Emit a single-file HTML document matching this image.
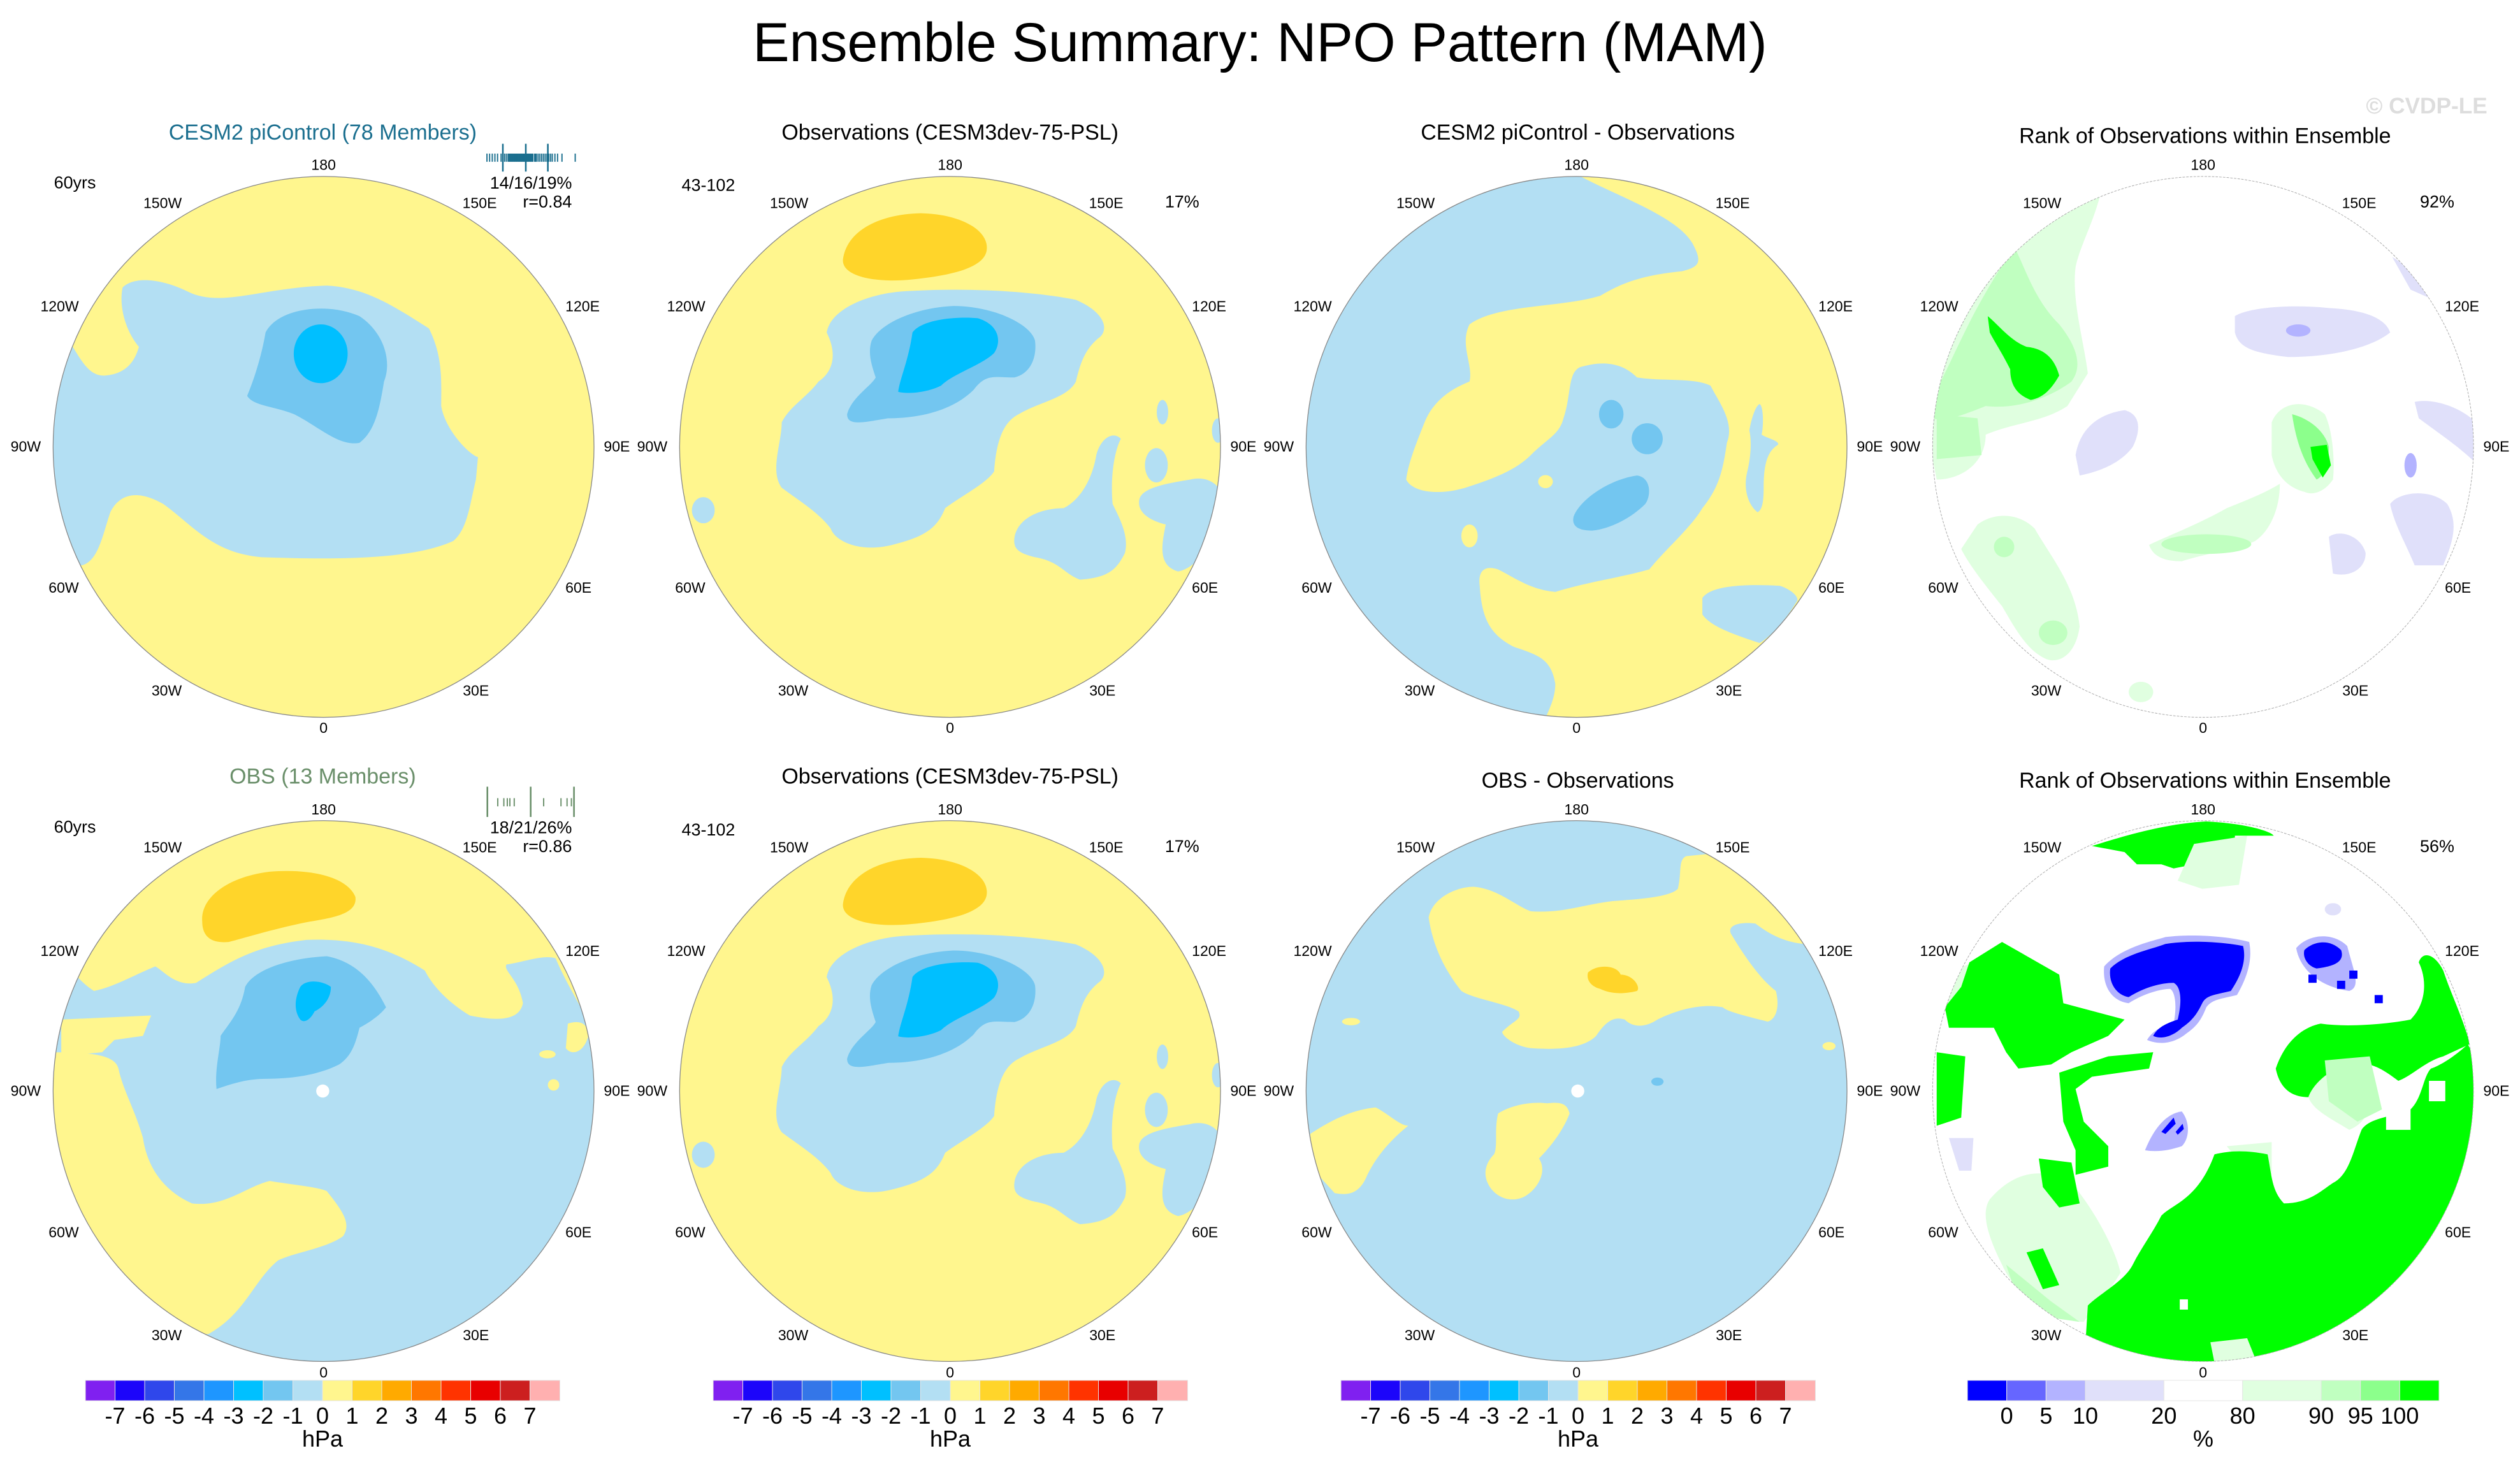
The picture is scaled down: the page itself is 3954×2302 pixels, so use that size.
<!DOCTYPE html>
<html>
<head>
<meta charset="utf-8">
<style>
html,body{margin:0;padding:0;background:#fff;}
svg{display:block;}
text{font-family:"Liberation Sans",Arial,sans-serif;}
</style>
</head>
<body>
<svg id="fig" xmlns="http://www.w3.org/2000/svg" width="3954" height="2302" viewBox="0 0 3954 2302">
<defs>
  <clipPath id="clipTop"><circle cx="792" cy="860" r="662"/></clipPath>
  <clipPath id="clipBot"><circle cx="792" cy="855" r="662"/></clipPath>
  <g id="obsPattern">
    <rect x="100" y="150" width="1400" height="1400" fill="#fff68e"/>
    <path fill="#ffd52a" d="M530,400 C540,330 620,290 720,288 C820,290 885,330 882,375 C880,420 800,440 700,450 C600,460 525,440 530,400 Z"/>
    <path fill="#b3dff3" d="M490,580 C500,520 600,480 700,478 C850,470 1000,480 1100,500 C1170,530 1180,570 1160,590 C1120,620 1110,660 1100,700 C1080,740 1010,750 960,780 C920,800 905,850 900,920 C880,950 820,980 780,1010 C760,1060 730,1080 650,1100 C570,1120 510,1090 500,1060 C470,1020 420,990 380,960 C350,920 380,850 380,800 C400,760 440,740 470,700 C500,680 520,640 490,580 Z"/>
    <path fill="#73c6f0" d="M600,600 C620,560 700,520 800,515 C900,515 990,560 1000,600 C1005,640 990,680 950,690 C900,690 880,680 850,720 C800,770 720,790 640,790 C580,800 540,810 540,780 C550,740 600,710 610,690 C600,660 590,630 600,600 Z"/>
    <path fill="#00bfff" d="M700,580 C720,550 800,540 860,545 C910,560 920,600 900,630 C870,660 800,680 770,710 C730,730 680,730 665,725 C670,690 690,650 700,580 Z"/>
    <path fill="#b3dff3" d="M950,1080 C960,1030 1020,1010 1070,1010 C1110,990 1140,940 1150,880 C1160,840 1190,820 1210,840 C1190,880 1185,950 1190,1000 C1210,1040 1230,1080 1220,1120 C1200,1160 1180,1180 1110,1185 C1070,1170 1060,1140 1000,1130 C960,1120 945,1110 950,1080 Z"/>
    <path fill="#b3dff3" d="M1255,990 C1260,960 1320,950 1380,940 C1420,930 1450,950 1460,980 L1450,1080 C1410,1130 1380,1160 1350,1165 C1300,1150 1310,1100 1320,1050 C1280,1040 1250,1020 1255,990 Z"/>
    <ellipse fill="#b3dff3" cx="1312" cy="775" rx="14" ry="30"/>
    <ellipse fill="#b3dff3" cx="1297" cy="905" rx="28" ry="42"/>
    <ellipse fill="#b3dff3" cx="1448" cy="820" rx="15" ry="30"/>
    <ellipse fill="#b3dff3" cx="188" cy="1015" rx="28" ry="32"/>
  </g>
</defs>

<text x="1977" y="96" font-size="86" text-anchor="middle" fill="#000">Ensemble Summary: NPO Pattern (MAM)</text>

<!-- Panel 1: CESM2 piControl -->
<g transform="translate(0,150) scale(0.641)">
  <g clip-path="url(#clipTop)">
    <rect x="100" y="150" width="1400" height="1400" fill="#fff68e"/>
    <path fill="#b3dff3" d="M300,470 C330,440 400,450 460,480 C540,520 640,470 800,465 C900,470 970,520 1050,570 C1085,640 1080,700 1080,760 C1090,820 1150,880 1170,885 L1165,940 C1150,1000 1145,1060 1110,1090 C1000,1140 800,1135 640,1130 C520,1120 470,1050 400,1000 C330,960 290,980 270,1020 C250,1080 240,1140 200,1150 L100,1150 L100,610 L175,610 C200,650 220,690 260,685 C310,680 330,650 340,615 C310,580 290,520 300,470 Z"/>
    <path fill="#73c6f0" d="M650,580 C680,520 800,505 880,540 C940,580 960,650 940,700 C930,760 920,820 880,850 C830,860 780,810 720,780 C670,760 620,760 605,735 C620,700 640,640 650,580 Z"/>
    <ellipse fill="#00bfff" cx="785" cy="632" rx="66" ry="72"/>
  </g>
  <circle cx="792" cy="860" r="662" fill="none" stroke="#888" stroke-width="2"/>
  <text x="790" y="108" font-size="53" text-anchor="middle" fill="#1b6f8f">CESM2 piControl (78 Members)</text>
  <g id="hist1"></g>
  <text x="132" y="227" font-size="42">60yrs</text>
  <text x="1400" y="228" font-size="42" text-anchor="end">14/16/19%</text>
  <text x="1400" y="274" font-size="42" text-anchor="end">r=0.84</text>
  <g class="lonlabels"></g>
</g>

<!-- Panel 2: Observations -->
<g transform="translate(983,150) scale(0.641)">
  <g clip-path="url(#clipTop)">
    <use href="#obsPattern"/>
  </g>
  <circle cx="792" cy="860" r="662" fill="none" stroke="#888" stroke-width="2"/>
  <text x="792" y="108" font-size="53" text-anchor="middle">Observations (CESM3dev-75-PSL)</text>
  <text x="135" y="233" font-size="42">43-102</text>
  <text x="1402" y="274" font-size="42" text-anchor="end">17%</text>
  <g class="lonlabels"></g>
</g>

<!-- Panel 3: difference -->
<g transform="translate(1966,150) scale(0.641)">
  <g clip-path="url(#clipTop)">
    <rect x="100" y="150" width="1400" height="1400" fill="#b3dff3"/>
    <path fill="#fff68e" d="M800,197 C900,250 1050,300 1080,370 C1100,410 1090,420 1050,430 C950,440 900,460 850,490 C750,520 600,510 530,560 C505,610 540,660 530,700 C480,720 440,750 420,800 C400,850 380,900 375,940 C390,970 450,980 520,960 C580,940 640,920 680,880 C720,840 750,830 760,790 C780,730 770,680 800,665 C850,650 900,650 940,690 C1000,700 1080,690 1120,710 C1140,750 1180,800 1160,850 C1150,920 1140,960 1100,1010 C1070,1060 1010,1110 970,1160 C900,1180 820,1190 740,1215 C680,1210 640,1180 600,1160 C570,1150 550,1160 555,1200 C560,1280 580,1320 640,1350 C700,1370 730,1380 740,1440 C740,1480 720,1510 710,1540 L1500,1540 L1500,150 L800,150 Z"/>
    <path fill="#b3dff3" d="M1100,1230 C1120,1200 1200,1195 1290,1200 C1320,1210 1340,1230 1330,1240 C1300,1290 1260,1330 1240,1340 C1180,1320 1120,1300 1100,1270 Z"/>
    <path fill="#b3dff3" d="M1240,755 C1250,760 1250,810 1245,830 C1260,840 1290,845 1285,855 C1260,870 1250,900 1250,960 C1250,1000 1245,1015 1235,1020 C1210,1000 1200,960 1210,920 C1220,880 1220,840 1215,820 C1220,790 1230,760 1240,755 Z"/>
    <ellipse fill="#fff68e" cx="716" cy="945" rx="18" ry="16"/>
    <ellipse fill="#fff68e" cx="530" cy="1078" rx="20" ry="28"/>
    <ellipse fill="#73c6f0" cx="877" cy="780" rx="30" ry="35"/>
    <ellipse fill="#73c6f0" cx="965" cy="840" rx="38" ry="38"/>
    <path fill="#73c6f0" d="M785,1030 C800,990 870,940 940,930 C975,935 975,980 960,1000 C930,1030 880,1060 830,1065 C790,1065 780,1050 785,1030 Z"/>
  </g>
  <circle cx="792" cy="860" r="662" fill="none" stroke="#888" stroke-width="2"/>
  <text x="795" y="108" font-size="53" text-anchor="middle">CESM2 piControl - Observations</text>
  <g class="lonlabels"></g>
</g>

<!-- Panel 4: rank (top) -->
<g transform="translate(2949,150) scale(0.641)">
  <g clip-path="url(#clipTop)">
    <rect x="100" y="150" width="1400" height="1400" fill="#fff"/>
    <path fill="#e0ffe0" d="M540,245 C520,320 490,370 480,420 C470,500 500,600 510,680 L460,760 C400,800 330,800 260,830 C260,900 200,940 140,940 L100,740 C150,600 200,470 290,360 C380,280 460,250 540,245 Z"/>
    <path fill="#c0ffc0" d="M330,370 C360,430 380,500 440,560 C480,610 500,660 470,700 C430,730 350,770 260,760 C210,780 160,800 130,790 L150,700 C200,600 230,520 330,370 Z"/>
    <path fill="#c0ffc0" d="M140,780 L240,790 L250,880 L140,890 Z"/>
    <path fill="#00ff00" d="M265,540 C290,560 320,600 360,615 C410,620 430,650 440,685 C420,720 400,740 370,745 C330,730 320,700 320,670 C300,630 280,600 270,580 Z"/>
    <path fill="#e0ffe0" d="M960,800 C980,750 1040,740 1090,780 C1110,820 1115,900 1110,940 C1090,970 1060,980 1040,970 C1000,960 970,930 960,880 Z"/>
    <path fill="#8cff8c" d="M1010,780 C1050,790 1090,820 1100,860 C1100,900 1090,930 1070,940 C1040,900 1020,850 1010,780 Z"/>
    <path fill="#00ff00" d="M1055,860 L1095,855 L1105,905 L1085,935 L1060,890 Z"/>
    <path fill="#e0ffe0" d="M660,1100 C700,1080 780,1050 850,1010 C900,990 950,970 980,950 C980,1020 950,1070 920,1090 C880,1110 800,1120 740,1140 C700,1140 670,1130 660,1100 Z"/>
    <ellipse fill="#c0ffc0" cx="800" cy="1098" rx="110" ry="24"/>
    <path fill="#e0ffe0" d="M240,1050 C280,1020 340,1020 380,1060 C420,1130 480,1200 490,1300 C480,1370 440,1390 410,1380 C360,1360 330,1300 300,1250 C260,1200 220,1150 200,1110 Z"/>
    <ellipse fill="#c0ffc0" cx="425" cy="1315" rx="35" ry="30"/>
    <ellipse fill="#c0ffc0" cx="305" cy="1105" rx="25" ry="25"/>
    <ellipse fill="#e0ffe0" cx="640" cy="1460" rx="30" ry="25"/>
    <path fill="#e0e0fa" d="M870,540 C900,520 1000,510 1100,520 C1200,525 1240,550 1250,580 C1200,620 1100,640 1000,640 C920,630 880,620 870,580 Z"/>
    <path fill="#e0e0fa" d="M480,880 C490,820 530,780 600,770 C640,780 640,820 620,860 C590,900 540,920 490,930 Z"/>
    <path fill="#e0e0fa" d="M1250,1000 C1270,970 1350,960 1390,1000 C1420,1050 1400,1100 1380,1150 L1310,1150 C1290,1100 1260,1050 1250,1000 Z"/>
    <path fill="#e0e0fa" d="M1310,750 C1350,740 1420,760 1460,800 L1460,900 C1420,860 1360,820 1320,790 Z"/>
    <path fill="#e0e0fa" d="M1100,1080 C1130,1060 1180,1080 1190,1120 C1190,1160 1150,1180 1110,1170 Z"/>
    <path fill="#e0e0fa" d="M1255,395 C1300,420 1330,460 1345,495 L1300,475 Z"/>
    <ellipse fill="#b3b3ff" cx="1300" cy="905" rx="15" ry="30"/>
    <ellipse fill="#b3b3ff" cx="1025" cy="575" rx="30" ry="15"/>
  </g>
  <circle cx="792" cy="860" r="662" fill="none" stroke="#aaa" stroke-width="1.5" stroke-dasharray="6 3"/>
  <text x="1488" y="44" font-size="55" font-weight="bold" text-anchor="end" fill="#dddddd">© CVDP-LE</text>
  <text x="797" y="116" font-size="53" text-anchor="middle">Rank of Observations within Ensemble</text>
  <text x="1407" y="274" font-size="42" text-anchor="end">92%</text>
  <g class="lonlabels"></g>
</g>

<!-- Panel 5: OBS 13 members -->
<g transform="translate(0,1164) scale(0.641)">
  <g clip-path="url(#clipBot)">
    <rect x="100" y="150" width="1400" height="1400" fill="#b3dff3"/>
    <path fill="#fff68e" d="M100,580 L100,150 L1500,150 L1500,700 L1440,690 C1420,640 1390,600 1360,530 C1330,520 1280,540 1240,545 C1230,560 1270,580 1280,640 C1270,690 1200,680 1150,670 C1100,640 1060,600 1040,560 C960,510 880,480 750,485 C620,500 560,540 480,590 C430,600 400,560 380,550 C330,570 280,600 230,610 C200,590 190,575 180,565 Z"/>
    <path fill="#ffd52a" d="M495,440 C490,380 560,330 660,318 C760,310 850,330 870,380 C875,420 820,430 760,440 C680,455 600,480 560,490 C510,495 495,470 495,440 Z"/>
    <path fill="#fff68e" d="M150,680 L370,670 L350,720 L280,730 L250,760 L150,770 Z"/>
    <path fill="#fff68e" d="M100,760 C200,760 280,760 290,800 C300,850 330,900 350,970 C360,1040 400,1100 470,1130 C550,1140 600,1090 660,1075 C720,1085 780,1090 800,1100 C840,1150 860,1180 840,1210 C800,1240 720,1250 680,1270 C620,1320 600,1400 510,1450 L100,1450 Z"/>
    <path fill="#fff68e" d="M1390,690 C1420,680 1440,690 1440,720 C1430,760 1400,770 1385,750 Z"/>
    <ellipse fill="#fff68e" cx="1355" cy="840" rx="14" ry="14"/>
    <ellipse fill="#fff68e" cx="1340" cy="765" rx="20" ry="10"/>
    <path fill="#73c6f0" d="M600,600 C620,560 700,530 800,525 C880,540 920,600 945,650 C930,670 900,690 880,700 C870,740 860,770 830,790 C780,815 720,825 650,825 C600,825 560,840 530,850 C525,800 540,750 540,720 C560,690 590,660 600,600 Z"/>
    <path fill="#00bfff" d="M735,600 C750,580 790,585 810,600 C810,630 790,650 770,660 C760,680 745,690 735,680 C720,660 720,630 735,600 Z"/>
    <circle fill="#fff" cx="790" cy="855" r="16"/>
  </g>
  <circle cx="792" cy="855" r="662" fill="none" stroke="#888" stroke-width="2"/>
  <text x="790" y="102" font-size="53" text-anchor="middle" fill="#6a8f6a">OBS (13 Members)</text>
  <g id="hist2"></g>
  <text x="132" y="222" font-size="42">60yrs</text>
  <text x="1400" y="224" font-size="42" text-anchor="end">18/21/26%</text>
  <text x="1400" y="270" font-size="42" text-anchor="end">r=0.86</text>
  <g class="lonlabels bot"></g>
</g>

<!-- Panel 6: Observations (bottom) -->
<g transform="translate(983,1164) scale(0.641)">
  <g clip-path="url(#clipBot)">
    <use href="#obsPattern" transform="translate(0,-4)"/>
  </g>
  <circle cx="792" cy="855" r="662" fill="none" stroke="#888" stroke-width="2"/>
  <text x="792" y="102" font-size="53" text-anchor="middle">Observations (CESM3dev-75-PSL)</text>
  <text x="135" y="229" font-size="42">43-102</text>
  <text x="1402" y="270" font-size="42" text-anchor="end">17%</text>
  <g class="lonlabels bot"></g>
</g>

<!-- Panel 7: OBS - Observations -->
<g transform="translate(1966,1164) scale(0.641)">
  <g clip-path="url(#clipBot)">
    <rect x="100" y="150" width="1400" height="1400" fill="#b3dff3"/>
    <path fill="#fff68e" d="M430,430 C440,380 500,355 540,355 C600,360 640,400 680,415 C760,420 800,400 880,390 C950,385 1020,380 1040,360 C1050,320 1040,290 1060,280 L1110,275 C1200,320 1300,420 1350,495 C1290,490 1250,460 1230,445 C1190,440 1160,450 1170,470 C1200,520 1240,580 1280,610 C1290,650 1280,680 1260,685 C1200,670 1160,660 1150,650 C1100,640 1040,655 990,680 C960,700 930,700 910,680 C880,670 860,690 840,720 C810,750 750,755 680,750 C640,745 610,720 610,710 C640,680 660,680 650,660 C620,640 540,630 510,610 C470,560 440,500 430,430 Z"/>
    <path fill="#ffd52a" d="M820,565 C840,545 890,545 900,570 C930,570 950,600 940,610 C900,620 870,615 850,605 C830,600 815,585 820,565 Z"/>
    <path fill="#fff68e" d="M140,960 C200,920 250,900 300,895 C330,910 360,940 380,940 C330,980 300,1020 280,1060 C260,1110 230,1110 200,1105 L150,1050 Z"/>
    <path fill="#fff68e" d="M600,910 C630,890 680,880 720,885 C760,880 770,890 775,910 C760,950 730,990 700,1020 C720,1050 700,1090 670,1110 C640,1130 600,1120 580,1090 C560,1060 570,1030 590,1010 C600,990 590,950 600,910 Z"/>
    <ellipse fill="#fff68e" cx="240" cy="685" rx="22" ry="9"/>
    <ellipse fill="#fff68e" cx="1410" cy="745" rx="16" ry="10"/>
    <ellipse fill="#73c6f0" cx="990" cy="832" rx="15" ry="10"/>
    <circle fill="#fff" cx="795" cy="855" r="16"/>
  </g>
  <circle cx="792" cy="855" r="662" fill="none" stroke="#888" stroke-width="2"/>
  <text x="795" y="112" font-size="53" text-anchor="middle">OBS - Observations</text>
  <g class="lonlabels bot"></g>
</g>

<!-- Panel 8: rank (bottom) -->
<g transform="translate(2949,1164) scale(0.641)">
  <g clip-path="url(#clipBot)">
    <rect x="100" y="150" width="1400" height="1400" fill="#fff"/>
    <path fill="#e0ffe0" d="M270,1120 C330,1050 400,1040 470,1080 C530,1150 580,1250 590,1300 C560,1350 520,1390 500,1420 C420,1420 330,1350 300,1280 C260,1200 250,1150 270,1120 Z"/>
    <path fill="#c0ffc0" d="M310,1280 L420,1370 L490,1420 L420,1410 L330,1340 Z"/>
    <path fill="#e0ffe0" d="M1020,770 C1080,760 1150,770 1200,820 C1210,880 1200,930 1150,950 C1100,920 1060,900 1050,870 Z"/>
    <path fill="#e0ffe0" d="M180,560 L230,540 L240,640 L160,660 Z"/>
    <path fill="#e0ffe0" d="M850,990 L960,980 L960,1060 L900,1050 Z"/>
    <path fill="#00ff00" d="M510,1380 C540,1350 600,1320 620,1280 C640,1240 670,1200 690,1160 C720,1130 780,1120 820,1010 C860,1000 900,1000 950,1010 C960,1060 960,1100 990,1130 C1050,1130 1080,1100 1110,1080 C1150,1060 1160,1000 1180,950 C1200,920 1250,920 1300,900 C1330,870 1330,820 1350,800 C1380,790 1420,760 1440,740 L1470,800 L1470,1540 L500,1540 Z"/>
    <path fill="#00ff00" d="M970,800 C990,740 1030,700 1080,690 C1150,700 1250,690 1300,680 C1340,640 1340,580 1320,540 C1330,510 1360,520 1380,560 C1400,620 1430,680 1445,740 L1380,770 C1340,780 1300,820 1270,830 C1230,800 1200,780 1150,790 C1100,800 1060,840 1050,870 C1010,870 980,850 970,800 Z"/>
    <path fill="#c0ffc0" d="M1090,780 L1200,770 L1230,900 L1170,930 L1100,880 Z"/>
    <rect fill="#fff" x="1345" y="830" width="40" height="50"/>
    <rect fill="#fff" x="1240" y="880" width="60" height="70"/>
    <rect fill="#fff" x="735" y="1365" width="20" height="25"/>
    <path fill="#e0ffe0" d="M810,1470 L900,1460 L920,1510 L820,1520 Z"/>
    <path fill="#00ff00" d="M220,540 L300,490 L440,570 L450,640 L600,680 L560,720 L470,760 L420,790 L340,800 L310,760 L280,700 L220,700 L170,700 L160,650 L200,600 Z"/>
    <path fill="#00ff00" d="M140,760 L210,770 L200,920 L140,940 Z"/>
    <path fill="#00ff00" d="M440,810 L560,770 L670,760 L660,800 L520,820 L480,850 L500,930 L560,990 L560,1040 L480,1060 L480,1000 L450,930 Z"/>
    <path fill="#00ff00" d="M390,1020 L470,1030 L490,1130 L440,1140 L400,1090 Z"/>
    <path fill="#00ff00" d="M360,1250 L400,1240 L440,1330 L400,1340 Z"/>
    <path fill="#00ff00" d="M520,255 C600,230 700,200 800,195 C900,200 960,220 965,230 L870,230 L870,250 L770,260 L770,300 L720,310 L690,300 L630,300 L600,270 Z"/>
    <path fill="#e0ffe0" d="M770,250 L900,230 L880,350 L790,360 L730,340 Z"/>
    <path fill="#b3b3ff" d="M550,550 C590,505 660,490 700,478 C760,470 850,475 905,490 C915,540 895,585 875,620 C835,630 815,630 800,650 C790,675 780,695 750,715 C725,735 690,745 655,730 C670,705 695,695 720,690 C728,650 725,615 712,605 C690,605 650,615 610,640 C570,635 545,600 550,550 Z"/>
    <path fill="#0000ff" d="M565,555 C600,520 660,510 700,495 C760,485 840,490 890,500 C900,540 880,580 860,610 C820,620 800,620 790,640 C780,660 770,680 740,700 C720,720 690,730 670,720 C680,700 700,690 730,680 C740,640 740,600 720,590 C690,590 650,600 610,625 C580,620 560,590 565,555 Z"/>
    <path fill="#b3b3ff" d="M1020,505 C1050,470 1110,465 1145,500 C1160,560 1180,600 1150,610 C1080,600 1030,560 1020,505 Z"/>
    <path fill="#0000ff" d="M1040,510 C1060,490 1100,480 1130,510 C1140,540 1110,550 1070,555 C1050,550 1035,530 1040,510 Z"/>
    <rect fill="#0000ff" x="1050" y="570" width="20" height="20"/>
    <rect fill="#0000ff" x="1120" y="585" width="20" height="20"/>
    <rect fill="#0000ff" x="1150" y="560" width="20" height="20"/>
    <rect fill="#0000ff" x="1212" y="620" width="20" height="20"/>
    <ellipse fill="#e0e0fa" cx="1110" cy="410" rx="20" ry="15"/>
    <path fill="#b3b3ff" d="M650,1000 C670,950 700,910 740,905 C760,930 760,970 740,990 C710,1000 680,1005 650,1000 Z"/>
    <path fill="#0000ff" d="M690,955 L720,920 L725,935 L700,960 Z M725,955 L742,935 L745,948 L730,962 Z"/>
    <path fill="#e0e0fa" d="M170,970 L230,970 L225,1050 L195,1050 Z"/>
  </g>
  <circle cx="792" cy="855" r="662" fill="none" stroke="#aaa" stroke-width="1.5" stroke-dasharray="6 3"/>
  <text x="797" y="112" font-size="53" text-anchor="middle">Rank of Observations within Ensemble</text>
  <text x="1407" y="270" font-size="42" text-anchor="end">56%</text>
  <g class="lonlabels bot"></g>
</g>

<g id="colorbars"></g>
</svg>

<script>
// Colorbar data
const hpaColors = ["#8020f0","#1c05fa","#2f47eb","#3476e8","#1e96ff","#00c0ff","#73c6f0","#b3dff3","#fff68e","#ffd52a","#ffaa00","#ff7700","#ff3300","#e80000","#cc1f1f","#ffb0b0"];
const hpaTicks = ["-7","-6","-5","-4","-3","-2","-1","0","1","2","3","4","5","6","7"];
const rankColors = ["#0000ff","#6666ff","#b3b3ff","#e0e0fa","#ffffff","#e0ffe0","#c0ffc0","#8cff8c","#00ff00"];
const rankUnits = [1,1,1,2,2,2,1,1,1];
const rankTicks = ["0","5","10","20","80","90","95","100"];
// member histogram positions (fraction of range) for two ensembles
const hist1 = [0,0.03,0.06,0.09,0.12,0.16,0.18,0.2,0.22,0.24,0.25,0.26,0.27,0.28,0.29,0.3,0.31,0.32,0.33,0.34,0.35,0.36,0.37,0.38,0.39,0.4,0.41,0.42,0.43,0.44,0.45,0.46,0.47,0.48,0.49,0.5,0.51,0.52,0.54,0.55,0.56,0.58,0.6,0.62,0.64,0.66,0.68,0.7,0.72,0.74,0.77,0.8,0.85,1.0];
const hist1Major = [0.18,0.44,0.69];
const hist2 = [0.12,0.19,0.23,0.26,0.31,0.65,0.85,0.92,0.97];
const hist2Major = [0,0.5,1.0];

const NS="http://www.w3.org/2000/svg";
function mk(tag,attrs,parent){const e=document.createElementNS(NS,tag);for(const k in attrs)e.setAttribute(k,attrs[k]);parent.appendChild(e);return e;}

// longitude labels
const lonNames=["180","150W","150E","120W","120E","90W","90E","60W","60E","30W","30E","0"];
const lonX=[792,398,1174,146,1426,63,1510,156,1416,408,1165,792];
const lonY=[182,275,275,528,528,871,871,1217,1217,1469,1469,1560];
document.querySelectorAll('.lonlabels').forEach(g=>{
  const dy=g.classList.contains('bot')?-4:0;
  lonNames.forEach((n,i)=>{
    const t=mk('text',{x:lonX[i],y:lonY[i]+dy,'font-size':36,'text-anchor':'middle'},g);
    
    
    t.textContent=n;
  });
});

// histograms
function drawHist(id,vals,major,color,x0,x1,yTop,yBot,mTop,mBot){
  const g=document.getElementById(id);
  vals.forEach(v=>{
    const l=mk('line',{x1:x0+v*(x1-x0),x2:x0+v*(x1-x0),y1:yTop,y2:yBot,stroke:color,'stroke-width':3},g);
    
    
  });
  major.forEach(v=>{
    const l=mk('line',{x1:x0+v*(x1-x0),x2:x0+v*(x1-x0),y1:mTop,y2:mBot,stroke:color,'stroke-width':4},g);
    
    
  });
}
drawHist('hist1',hist1,hist1Major,'#1b6f8f',1192,1408,142,162,118,186);
drawHist('hist2',hist2,hist2Major,'#6a8f6a',1193,1405,138,158,110,184);

// colorbars
const cb=document.getElementById('colorbars');
const centers=[506,1491,2476,3460];
const barY=2166, barH=32;
for(let p=0;p<3;p++){
  const x0=centers[p]-372, w=744/hpaColors.length;
  hpaColors.forEach((c,i)=>{
    const r=mk('rect',{x:x0+i*w,y:barY,width:w+0.5,height:barH,fill:c,stroke:'#e6e6e6','stroke-width':1},cb);
    
    
  });
  hpaTicks.forEach((t,i)=>{
    const e=mk('text',{x:x0+(i+1)*w,y:2234,'font-size':36,'text-anchor':'middle'},cb);
    
    
    e.textContent=t;
  });
  const u=mk('text',{x:centers[p],y:2270,'font-size':36,'text-anchor':'middle'},cb);
  
  
  u.textContent='hPa';
}
{
  const total=rankUnits.reduce((a,b)=>a+b,0);
  const x0=3087, uw=740/total;
  let acc=0; const bounds=[];
  rankColors.forEach((c,i)=>{
    const r=mk('rect',{x:x0+acc*uw,y:barY,width:rankUnits[i]*uw,height:barH,fill:c,stroke:'#e6e6e6','stroke-width':1},cb);
    
    
    acc+=rankUnits[i]; bounds.push(acc);
  });
  rankTicks.forEach((t,i)=>{
    const e=mk('text',{x:x0+bounds[i]*uw,y:2234,'font-size':36,'text-anchor':'middle'},cb);
    
    
    e.textContent=t;
  });
  const u=mk('text',{x:3457,y:2270,'font-size':36,'text-anchor':'middle'},cb);
  
  
  u.textContent='%';
}
</script>
</body>
</html>
